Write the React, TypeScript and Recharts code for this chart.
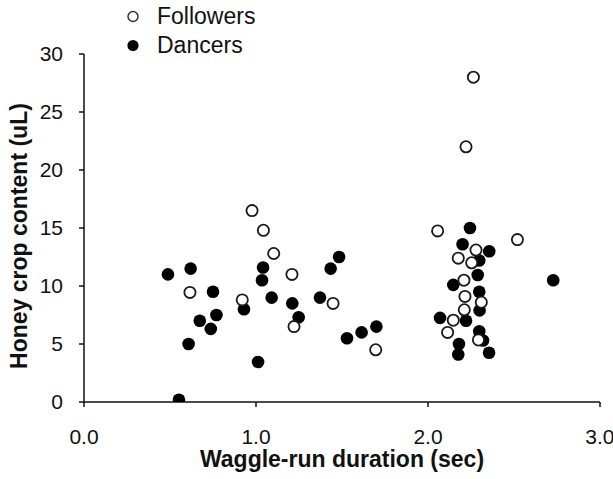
import { ScatterChart, Scatter, XAxis, YAxis, Label } from "recharts";

// Waggle-run duration (sec) vs honey crop content (uL)
const xTicks = [0, 1, 2, 3];
const yTicks = [0, 5, 10, 15, 20, 25, 30];

const followerDuration = [
  0.977, 1.043, 1.103, 1.209, 0.616, 0.92, 1.448, 1.221, 1.696, 2.264, 2.221,
  2.056, 2.52, 2.279, 2.176, 2.254, 2.209, 2.215, 2.31, 2.211, 2.147, 2.114,
  2.293,
];
const followerCrop = [
  16.5, 14.8, 12.8, 11.0, 9.45, 8.8, 8.5, 6.5, 4.5, 28.0, 22.0, 14.75, 14.0,
  13.1, 12.4, 12.0, 10.5, 9.1, 8.6, 7.95, 7.05, 6.0, 5.35,
];

const dancerDuration = [
  0.488, 0.62, 0.75, 1.041, 1.035, 1.091, 1.211, 1.248, 0.93, 1.372, 1.434,
  1.483, 0.673, 0.77, 0.737, 0.608, 1.012, 0.552, 1.529, 1.614, 1.7, 2.244,
  2.201, 2.356, 2.298, 2.289, 2.147, 2.298, 2.3, 2.07, 2.221, 2.298, 2.32, 2.18,
  2.176, 2.355, 2.728,
];
const dancerCrop = [
  11.0, 11.5, 9.5, 11.6, 10.5, 9.0, 8.5, 7.3, 8.0, 9.0, 11.5, 12.5, 7.0, 7.5,
  6.3, 5.0, 3.45, 0.2, 5.5, 6.0, 6.5, 15.0, 13.6, 13.0, 12.2, 10.95, 10.1, 9.5,
  7.9, 7.25, 7.0, 6.1, 5.3, 5.0, 4.1, 4.25, 10.5,
];

const followers = followerDuration.map((x, i) => ({ x, y: followerCrop[i] }));
const dancers = dancerDuration.map((x, i) => ({ x, y: dancerCrop[i] }));

const FONT = "'Liberation Sans', Arial, sans-serif";
const INK = "#111";

const OpenDot = (props: any) => (
  <circle cx={props.cx} cy={props.cy} r={5.6} fill="#fff" stroke="#1a1a1a" strokeWidth={1.8} />
);

const FilledDot = (props: any) => (
  <circle cx={props.cx} cy={props.cy} r={6.3} fill="#000" />
);

const legendItems = [
  { name: "Followers", filled: false },
  { name: "Dancers", filled: true },
];

// legend sits on top of the chart so it doesn't eat into the plot area
const ChartLegend = () => (
  <div
    style={{
      position: "absolute",
      top: 2,
      left: 120,
      fontFamily: FONT,
      fontSize: 23,
      color: INK,
    }}
  >
    {legendItems.map((item) => (
      <div key={item.name} style={{ display: "flex", alignItems: "center", height: 29 }}>
        <svg width={37} height={29}>
          <circle
            cx={13}
            cy={14.5}
            r={item.filled ? 5.6 : 5}
            fill={item.filled ? "#000" : "#fff"}
            stroke={item.filled ? "none" : "#333"}
            strokeWidth={1.5}
          />
        </svg>
        <span>{item.name}</span>
      </div>
    ))}
  </div>
);

export default function App() {
  return (
    <div style={{ position: "fixed", left: 0, top: 0, width: 613, height: 479, background: "#fff" }}>
      <ScatterChart
        width={613}
        height={479}
        margin={{ top: 54, right: 13, bottom: 0, left: 0 }}
      >
        <XAxis
          type="number"
          dataKey="x"
          domain={[0, 3]}
          ticks={xTicks}
          tickFormatter={(v: number) => v.toFixed(1)}
          height={77}
          tickSize={5}
          tickMargin={22}
          axisLine={{ stroke: INK, strokeWidth: 1.5 }}
          tickLine={{ stroke: INK, strokeWidth: 1.5 }}
          tick={{ fontSize: 21, fill: INK, fontFamily: FONT }}
          allowDataOverflow
        >
          <Label
            content={() => (
              <text
                x={342}
                y={467}
                textAnchor="middle"
                fontFamily={FONT}
                fontSize={23}
                fontWeight="bold"
                fill={INK}
              >
                Waggle-run duration (sec)
              </text>
            )}
          />
        </XAxis>
        <YAxis
          type="number"
          dataKey="y"
          domain={[0, 30]}
          ticks={yTicks}
          width={84}
          tickSize={5}
          tickMargin={16}
          axisLine={{ stroke: INK, strokeWidth: 1.5 }}
          tickLine={{ stroke: INK, strokeWidth: 1.5 }}
          tick={{ fontSize: 21, fill: INK, fontFamily: FONT }}
          allowDataOverflow
        >
          <Label
            content={() => (
              <text
                x={27}
                y={236}
                transform="rotate(-90, 27, 236)"
                textAnchor="middle"
                fontFamily={FONT}
                fontSize={23}
                fontWeight="bold"
                fill={INK}
              >
                Honey crop content (uL)
              </text>
            )}
          />
        </YAxis>
        <Scatter
          name="Dancers"
          data={dancers}
          shape={FilledDot}
          isAnimationActive={false}
        />
        <Scatter
          name="Followers"
          data={followers}
          shape={OpenDot}
          isAnimationActive={false}
        />
      </ScatterChart>
      <ChartLegend />
    </div>
  );
}
